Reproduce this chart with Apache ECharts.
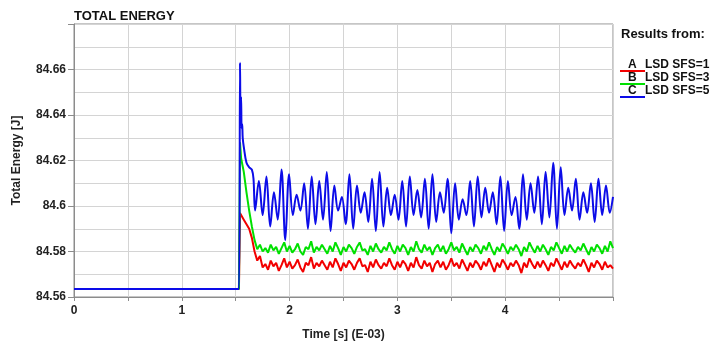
<!DOCTYPE html>
<html>
<head>
<meta charset="utf-8">
<script src="https://cdn.jsdelivr.net/npm/echarts@6/dist/echarts.min.js"></script>
<style>
html,body{margin:0;padding:0;background:#fff;}
#chart{width:716px;height:346px;}
</style>
</head>
<body>
<div id="chart"></div>
<script>
// ---- Data ----
const seriesNames = ['LSD SFS=1', 'LSD SFS=3', 'LSD SFS=5'];
const seriesLetters = ['A', 'B', 'C'];
const seriesColors = ['#f20000', '#00e000', '#0c0ce8'];

const xTickLabels = ['0', '1', '2', '3', '4'];
const yTickLabels = ['84.56', '84.58', '84.6', '84.62', '84.64', '84.66'];

// time samples for runs A and B (E-03 s)
const timeAB = [0, 1.53, 1.54,
  1.55,1.575,1.6,1.625,1.65,1.675,1.7,1.725,1.75,1.775,
  1.8,1.825,1.85,1.875,1.9,1.925,1.95,1.975,2.0,2.025,
  2.05,2.075,2.1,2.125,2.15,2.175,2.2,2.225,2.25,2.275,
  2.3,2.325,2.35,2.375,2.4,2.425,2.45,2.475,2.5,2.525,
  2.55,2.575,2.6,2.625,2.65,2.675,2.7,2.725,2.75,2.775,
  2.8,2.825,2.85,2.875,2.9,2.925,2.95,2.975,3.0,3.025,
  3.05,3.075,3.1,3.125,3.15,3.175,3.2,3.225,3.25,3.275,
  3.3,3.325,3.35,3.375,3.4,3.425,3.45,3.475,3.5,3.525,
  3.55,3.575,3.6,3.625,3.65,3.675,3.7,3.725,3.75,3.775,
  3.8,3.825,3.85,3.875,3.9,3.925,3.95,3.975,4.0,4.025,
  4.05,4.075,4.1,4.125,4.15,4.175,4.2,4.225,4.25,4.275,
  4.3,4.325,4.35,4.375,4.4,4.425,4.45,4.475,4.5,4.525,
  4.55,4.575,4.6,4.625,4.65,4.675,4.7,4.725,4.75,4.775,
  4.8,4.825,4.85,4.875,4.9,4.925,4.95,4.975,5.0];

const energyA = [84.5635, 84.5635, 84.597,
  84.596,84.594,84.592,84.590,84.586,84.580,84.576,84.578,84.573,
  84.5745,84.572,84.576,84.5735,84.575,84.5715,84.574,84.577,84.573,84.5755,84.5725,84.574,84.5765,84.573,84.571,84.575,84.574,84.5775,84.5725,84.575,84.5735,84.576,84.574,84.572,84.5755,84.573,84.577,84.5745,84.5715,84.575,84.573,84.576,84.5745,84.572,84.575,84.577,84.5735,84.574,84.571,84.5755,84.573,84.5765,84.574,84.5725,84.575,84.5735,84.577,84.574,84.572,84.5755,
  84.573,84.576,84.5745,84.5715,84.575,84.573,84.5775,84.574,84.5725,84.576,84.5735,84.575,84.571,84.5745,84.576,84.573,84.5755,84.572,84.574,84.577,84.5735,84.575,84.5725,84.5765,84.574,84.5715,84.575,84.573,84.576,84.5745,
  84.572,84.5755,84.5735,84.577,84.574,84.571,84.575,84.573,84.5765,84.5745,84.572,84.575,84.5735,84.576,84.574,84.5705,84.575,84.573,84.577,84.5745,
  84.5725,84.5755,84.573,84.576,84.574,84.5715,84.575,84.5735,84.577,84.5745,84.572,84.5755,84.573,84.576,84.574,84.5725,84.575,84.5735,84.5765,84.574,
  84.571,84.575,84.573,84.576,84.5745,84.572,84.5755,84.573,84.574,84.5725];

const energyB = [84.5635, 84.5635, 84.628,
  84.621,84.615,84.606,84.598,84.591,84.585,84.581,84.583,84.580,
  84.5815,84.5795,84.583,84.5805,84.582,84.579,84.5815,84.584,84.58,84.5825,84.5795,84.581,84.5835,84.58,84.5785,84.582,84.581,84.5845,84.5795,84.582,
  84.5805,84.583,84.581,84.579,84.5825,84.58,84.584,84.5815,84.5785,84.582,84.58,84.583,84.5815,84.579,84.582,84.584,84.5805,84.581,84.5785,84.5825,
  84.58,84.5835,84.581,84.5795,84.582,84.5805,84.584,84.581,84.579,84.5825,
  84.58,84.583,84.5815,84.5785,84.582,84.58,84.5845,84.581,84.5795,84.583,84.5805,84.582,84.5785,84.5815,84.583,84.58,84.5825,84.579,84.581,84.584,
  84.5805,84.582,84.5795,84.5835,84.581,84.5785,84.582,84.58,84.583,84.5815,
  84.579,84.5825,84.5805,84.584,84.581,84.5785,84.582,84.58,84.5835,84.5815,84.579,84.582,84.5805,84.583,84.581,84.578,84.582,84.58,84.584,84.5815,
  84.5795,84.5825,84.58,84.583,84.581,84.5785,84.582,84.5805,84.584,84.5815,84.579,84.5825,84.58,84.583,84.581,84.5795,84.582,84.5805,84.5835,84.581,
  84.5785,84.582,84.58,84.583,84.5815,84.579,84.5825,84.58,84.5845,84.5815];

// time samples for run C
const timeC = [0, 1.53, 1.54, 1.545, 1.55, 1.555, 1.56, 1.565, 1.575, 1.6, 1.625, 1.65, 1.665,
  1.68,1.715,1.75,1.785,1.82,1.855,1.89,1.925,1.96,1.995,
  2.03,2.065,2.1,2.135,2.17,2.205,2.24,2.275,2.31,2.345,
  2.38,2.415,2.45,2.485,2.52,2.555,2.59,2.625,2.66,2.695,
  2.73,2.765,2.8,2.835,2.87,2.905,2.94,2.975,3.01,3.045,
  3.08,3.115,3.15,3.185,3.22,3.255,3.29,3.325,3.36,3.395,
  3.43,3.465,3.5,3.535,3.57,3.605,3.64,3.675,3.71,3.745,
  3.78,3.815,3.85,3.885,3.92,3.955,3.99,4.025,4.06,4.095,
  4.13,4.165,4.2,4.235,4.27,4.305,4.34,4.375,4.41,4.445,
  4.48,4.515,4.55,4.585,4.62,4.655,4.69,4.725,4.76,4.795,
  4.83,4.865,4.9,4.935,4.97,5.0];

const energyC = [84.5635, 84.5635, 84.663, 84.640, 84.648, 84.634, 84.636, 84.630, 84.626, 84.619, 84.617, 84.616, 84.612,
  84.598,84.611,84.596,84.613,84.591,84.606,84.594,84.616,84.585,84.614,
  84.596,84.605,84.598,84.610,84.590,84.613,84.592,84.611,84.594,84.615,
  84.589,84.609,84.598,84.604,84.592,84.614,84.590,84.609,84.597,84.606,
  84.593,84.612,84.589,84.615,84.591,84.608,84.596,84.605,84.594,84.611,
  84.591,84.613,84.596,84.607,84.595,84.612,84.590,84.614,84.593,84.606,
  84.597,84.612,84.588,84.610,84.594,84.603,84.596,84.611,84.591,84.613,
  84.595,84.608,84.597,84.606,84.592,84.613,84.589,84.611,84.596,84.604,
  84.590,84.614,84.594,84.610,84.597,84.613,84.592,84.615,84.595,84.619,
  84.590,84.617,84.596,84.608,84.598,84.612,84.594,84.606,84.597,84.610,
  84.593,84.612,84.596,84.609,84.597,84.604];

// ---- Build ----
function zip(t, v) {
  const n = Math.min(t.length, v.length);
  const out = [];
  for (let i = 0; i < n; i++) out.push([t[i], v[i]]);
  return out;
}
const seriesData = [zip(timeAB, energyA), zip(timeAB, energyB), zip(timeC, energyC)];

const FONT = '"Liberation Sans", Arial, sans-serif';
const chart = echarts.init(document.getElementById('chart'), null, {renderer: 'canvas'});

const legendX = 620;
const legendY0 = 65;
const legendDy = 13;
const graphics = [{
  type: 'text', left: 621, top: 28,
  style: {text: 'Results from:', font: 'bold 13px ' + FONT, fill: '#111'}
}];
seriesNames.forEach((name, i) => {
  const y = legendY0 + i * legendDy;
  graphics.push({type: 'line', shape: {x1: legendX, y1: y + 6, x2: legendX + 25, y2: y + 6},
    style: {stroke: seriesColors[i], lineWidth: 2}});
  graphics.push({type: 'text', x: legendX + 8, y: y, style: {text: seriesLetters[i], font: 'bold 12px ' + FONT, fill: '#111', verticalAlign: 'middle'}});
  graphics.push({type: 'text', x: legendX + 25, y: y, style: {text: name, font: 'bold 12px ' + FONT, fill: '#111', verticalAlign: 'middle'}});
});

chart.setOption({
  animation: false,
  backgroundColor: '#fff',
  title: {
    text: 'TOTAL ENERGY', left: 69, top: 5,
    textStyle: {fontFamily: FONT, fontSize: 13, fontWeight: 'bold', color: '#111'}
  },
  grid: {left: 74, right: 103, top: 24, bottom: 43, show: true, borderColor: '#8c8c8c', borderWidth: 1},
  xAxis: {
    type: 'value', min: 0, max: 5, interval: 0.5,
    name: 'Time [s] (E-03)', nameLocation: 'middle', nameGap: 32,
    nameTextStyle: {fontFamily: FONT, fontSize: 12, fontWeight: 'bold', color: '#222'},
    axisLine: {show: true, lineStyle: {color: '#8c8c8c'}},
    axisTick: {show: true, length: 4, lineStyle: {color: '#8c8c8c'}},
    axisLabel: {
      fontFamily: FONT, fontSize: 12, fontWeight: 'bold', color: '#222', margin: 8,
      formatter: v => { const s = String(Math.round(v * 2) / 2); return xTickLabels.indexOf(s) >= 0 ? s : ''; }
    },
    splitLine: {show: true, lineStyle: {color: '#d4d4d4'}}
  },
  yAxis: {
    type: 'value', min: 84.56, max: 84.68, interval: 0.02,
    name: 'Total Energy [J]', nameLocation: 'middle', nameGap: 51, nameRotate: 90,
    nameTextStyle: {fontFamily: FONT, fontSize: 12, fontWeight: 'bold', color: '#222'},
    axisLine: {show: true, lineStyle: {color: '#8c8c8c'}},
    axisTick: {show: true, length: 6, lineStyle: {color: '#8c8c8c'}},
    axisLabel: {
      fontFamily: FONT, fontSize: 12, fontWeight: 'bold', color: '#222', margin: 8,
      formatter: v => { const s = String(Math.round(v * 100) / 100); return yTickLabels.indexOf(s) >= 0 ? s : ''; }
    },
    splitLine: {show: true, lineStyle: {color: '#d4d4d4'}},
    minorTick: {show: false, splitNumber: 2},
    minorSplitLine: {show: true, lineStyle: {color: '#d4d4d4'}}
  },
  graphic: graphics,
  series: seriesNames.map((name, i) => ({
    name: name, type: 'line', data: seriesData[i], showSymbol: false, symbol: 'none',
    smooth: i === 2 ? 0.35 : false,
    lineStyle: {color: seriesColors[i], width: 2}, itemStyle: {color: seriesColors[i]},
    z: 2 + i, clip: true
  }))
});
</script>
</body>
</html>
